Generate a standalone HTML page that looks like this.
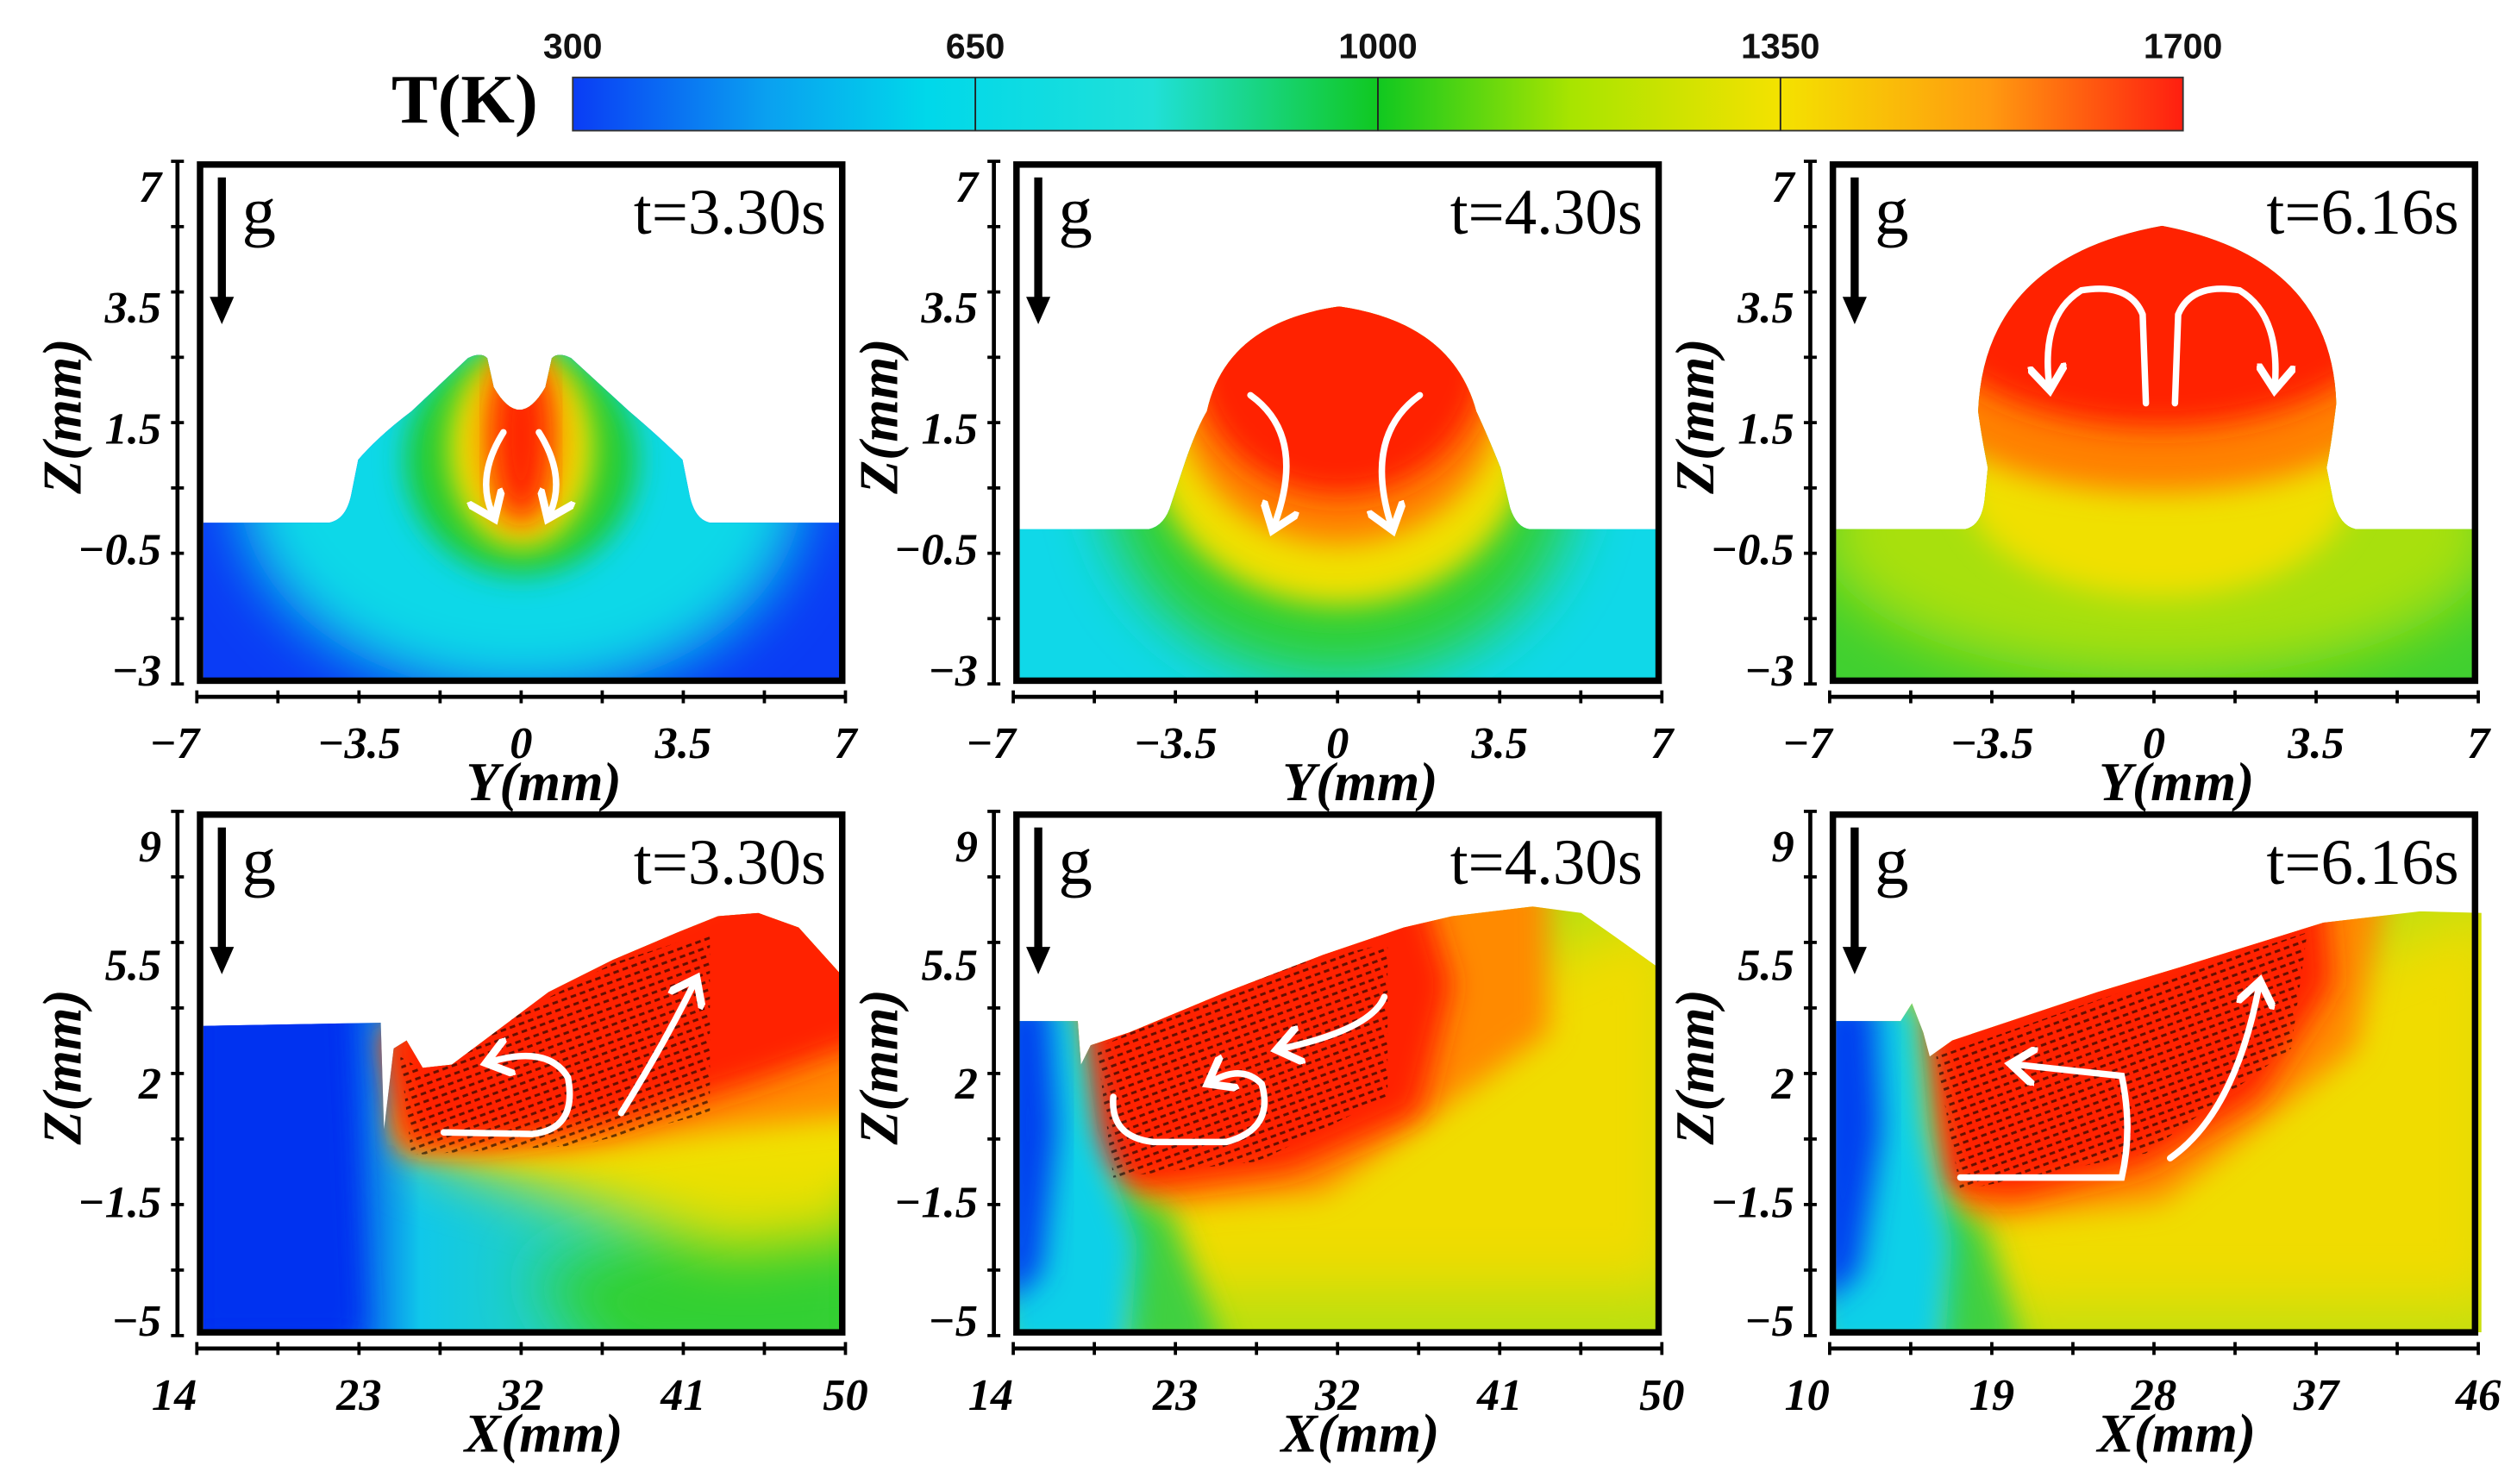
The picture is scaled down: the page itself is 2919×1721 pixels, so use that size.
<!DOCTYPE html>
<html><head><meta charset="utf-8">
<style>
html,body{margin:0;padding:0;background:#fff;}
svg{display:block;}
</style></head>
<body>
<svg id="fig" width="2919" height="1721" viewBox="0 0 1560 920" preserveAspectRatio="none" xmlns="http://www.w3.org/2000/svg">
<defs>
<linearGradient id="cbgrad" x1="0" y1="0" x2="1" y2="0">
<stop offset="0" stop-color="#0a3cf5"/><stop offset="0.12" stop-color="#0aa0f0"/><stop offset="0.22" stop-color="#00d8ea"/>
<stop offset="0.36" stop-color="#20e0d8"/><stop offset="0.5" stop-color="#10c820"/><stop offset="0.62" stop-color="#a8e400"/>
<stop offset="0.75" stop-color="#f4e200"/><stop offset="0.88" stop-color="#ff9a10"/><stop offset="1" stop-color="#ff1e10"/>
</linearGradient>
<linearGradient id="b1base" gradientUnits="userSpaceOnUse" x1="126" y1="0" x2="522" y2="0">
<stop offset="0" stop-color="#0030f0"/><stop offset="0.2" stop-color="#0036f0"/><stop offset="0.34" stop-color="#10c8ea"/><stop offset="0.7" stop-color="#30d8a0"/><stop offset="1" stop-color="#40d030"/>
</linearGradient>
<filter id="bl" x="-30%" y="-30%" width="160%" height="160%"><feGaussianBlur stdDeviation="9"/></filter>
<filter id="bl2" x="-30%" y="-30%" width="160%" height="160%"><feGaussianBlur stdDeviation="18"/></filter>
<pattern id="dots" width="6" height="5" patternUnits="userSpaceOnUse" patternTransform="rotate(-20)">
<rect x="1" y="1" width="3.5" height="1.6" fill="#000" opacity="0.6"/></pattern>
<marker id="wh" markerWidth="6" markerHeight="6" refX="3" refY="3" orient="auto" markerUnits="strokeWidth">
<path d="M0,0 L4,3 L0,6" fill="none" stroke="#fff" stroke-width="1.2"/></marker>
<clipPath id="c1"><path d="M126,324 L204,324 Q215,322 218,305 L222,285 Q235,270 255,255 L290,222 Q298,218 302,222 L306,240 Q322,268 338,240 L342,222 Q346,218 354,222 L390,255 Q410,272 423,285 L427,305 Q430,322 440,324 L522,324 L522,422 L126,422 Z"/></clipPath>
<clipPath id="c2"><path d="M632,328 L712,328 Q722,326 726,312 L735,285 Q742,265 748,255 Q760,200 830,190 Q900,200 915,255 Q922,270 930,290 L936,315 Q940,327 948,328 L1028,328 L1028,422 L632,422 Z"/></clipPath>
<clipPath id="c3"><path d="M1138,328 L1218,328 Q1228,326 1230,310 L1232,290 Q1228,270 1226,255 Q1230,160 1340,140 Q1445,160 1448,250 Q1445,275 1442,290 L1446,310 Q1450,326 1460,328 L1536,328 L1536,422 L1138,422 Z"/></clipPath>
<clipPath id="c4"><path d="M126,636 L236,634 L238,700 L244,650 L252,645 L262,662 L280,660 L300,645 L340,615 L380,595 L420,578 L445,568 L470,566 L495,575 L522,605 L522,826 L126,826 Z"/></clipPath>
<clipPath id="c5"><path d="M632,633 L668,633 L670,660 L676,648 L700,640 L760,615 L820,592 L870,575 L900,568 L950,562 L980,566 L1000,580 L1028,600 L1028,826 L632,826 Z"/></clipPath>
<clipPath id="c6"><path d="M1138,633 L1178,633 L1185,622 L1192,640 L1196,655 L1210,645 L1300,615 L1350,600 L1440,572 L1500,565 L1538,566 L1538,826 L1138,826 Z"/></clipPath>
</defs>

<g>
<text x="288" y="76" text-anchor="middle" font-family="Liberation Serif, serif" font-weight="bold" font-size="43">T(K)</text>
<rect x="355" y="48" width="998" height="33" fill="url(#cbgrad)" stroke="#333" stroke-width="1"/>
<g id="cbticks"></g>
</g>

<g clip-path="url(#c1)">
<rect x="120" y="200" width="410" height="230" fill="#0a3cf5"/>
<ellipse cx="323" cy="300" rx="175" ry="130" fill="#10d8e8" filter="url(#bl2)"/>
<ellipse cx="323" cy="285" rx="72" ry="72" fill="#20cc30" filter="url(#bl)"/>
<ellipse cx="323" cy="278" rx="45" ry="62" fill="#f0e000" filter="url(#bl)"/>
<ellipse cx="323" cy="272" rx="26" ry="55" fill="#ff8000" filter="url(#bl)"/>
<ellipse cx="323" cy="270" rx="16" ry="50" fill="#ff2000" filter="url(#bl)"/>
</g>
<g clip-path="url(#c2)">
<rect x="625" y="180" width="410" height="250" fill="#10d8e8"/>
<ellipse cx="830" cy="295" rx="145" ry="125" fill="#30d030" filter="url(#bl2)"/>
<ellipse cx="830" cy="270" rx="118" ry="105" fill="#f0e000" filter="url(#bl)"/>
<ellipse cx="830" cy="245" rx="100" ry="92" fill="#ff8000" filter="url(#bl)"/>
<ellipse cx="830" cy="222" rx="90" ry="85" fill="#ff2000" filter="url(#bl)"/>
</g>
<g clip-path="url(#c3)">
<rect x="1130" y="130" width="415" height="300" fill="#40d030"/>
<ellipse cx="1338" cy="330" rx="210" ry="90" fill="#a8e010" filter="url(#bl2)"/>
<ellipse cx="1338" cy="300" rx="120" ry="70" fill="#f0e000" filter="url(#bl)"/>
<ellipse cx="1338" cy="250" rx="140" ry="55" fill="#ff8000" filter="url(#bl)"/>
<ellipse cx="1338" cy="185" rx="150" ry="80" fill="#ff2000" filter="url(#bl)"/>
</g>
<g clip-path="url(#c4)">
<rect x="120" y="540" width="410" height="290" fill="url(#b1base)"/>
<polygon points="330,790 540,720 540,850 380,850" fill="#30d030" filter="url(#bl2)"/>
<polygon points="250,712 540,580 540,765 450,775 360,745" fill="#e8e000" filter="url(#bl2)"/>
<polygon points="245,690 540,560 540,730 420,725 330,718 255,712" fill="#f0e000" filter="url(#bl)"/>
<polygon points="240,640 300,615 470,540 540,560 540,690 450,700 350,714 248,714" fill="#ff8a00" filter="url(#bl)"/>
<polygon points="238,640 300,612 470,540 540,560 540,645 470,670 380,698 300,710 250,710" fill="#ff2000" filter="url(#bl)"/>
<polygon points="120,540 212,540 225,830 120,830" fill="#0030f0" filter="url(#bl)"/>
<polygon points="248,655 265,665 300,640 380,597 440,578 440,690 360,710 255,716" fill="url(#dots)"/>
</g>
<g clip-path="url(#c5)">
<rect x="625" y="540" width="410" height="290" fill="#b8e010"/>
<polygon points="690,700 1040,560 1040,800 720,800" fill="#f0dc00" filter="url(#bl2)"/>
<polygon points="672,620 880,540 960,545 960,640 820,740 690,750" fill="#ff8a00" filter="url(#bl)"/>
<polygon points="668,620 760,590 880,545 900,610 880,690 800,725 700,738 672,720" fill="#ff2000" filter="url(#bl)"/>
<polygon points="680,735 725,750 760,840 700,840" fill="#40d040" filter="url(#bl)"/>
<polygon points="620,620 668,620 680,700 705,770 700,840 620,840" fill="#10d0e8" filter="url(#bl)"/>
<polygon points="620,620 650,620 655,700 645,790 620,810" fill="#0040f0" filter="url(#bl)"/>
<polygon points="680,650 770,605 860,585 860,680 780,720 690,730" fill="url(#dots)"/>
</g>
<g clip-path="url(#c6)">
<rect x="1130" y="540" width="415" height="290" fill="#c0e010"/>
<polygon points="1200,700 1550,560 1550,810 1240,810" fill="#f0dc00" filter="url(#bl2)"/>
<polygon points="1195,630 1440,545 1480,550 1460,650 1340,745 1210,758" fill="#ff8a00" filter="url(#bl)"/>
<polygon points="1192,630 1300,600 1440,548 1445,610 1400,680 1330,722 1250,742 1205,738" fill="#ff2000" filter="url(#bl)"/>
<polygon points="1195,740 1230,760 1255,840 1200,840" fill="#40d040" filter="url(#bl)"/>
<polygon points="1125,620 1188,620 1195,700 1210,770 1205,840 1125,840" fill="#10d0e8" filter="url(#bl)"/>
<polygon points="1125,620 1162,620 1166,700 1152,790 1125,810" fill="#0040f0" filter="url(#bl)"/>
<polygon points="1200,655 1300,620 1430,578 1420,650 1330,715 1215,738" fill="url(#dots)"/>
</g>

<g fill="none" stroke="#fff" stroke-width="4" stroke-linecap="round" marker-end="url(#wh)">
<path d="M312,268 Q295,295 305,318"/><path d="M334,268 Q351,295 341,318"/>
<path d="M775,245 Q810,270 790,325"/><path d="M880,245 Q845,270 862,325"/>
<path d="M1330,250 L1328,195 Q1320,175 1290,180 Q1265,195 1270,238"/><path d="M1348,250 L1350,195 Q1358,175 1388,180 Q1413,195 1410,238"/>
<path d="M275,702 L330,703 Q358,700 352,668 Q340,648 305,658"/><path d="M385,690 Q410,650 430,610"/>
<path d="M690,680 Q688,705 715,708 L760,708 Q790,700 782,672 Q770,660 752,670"/><path d="M858,618 Q850,638 795,650"/>
<path d="M1215,730 L1315,730 Q1322,700 1315,667 L1250,660"/><path d="M1345,718 Q1385,690 1400,612"/>
</g>

<g id="panels"></g>
</svg>
<script>
const cbValues = [300, 650, 1000, 1350, 1700];
const yTickLabelsTop = ["7", "3.5", "1.5", "\u22120.5", "\u22123"];
const yTickLabelsBottom = ["9", "5.5", "2", "\u22121.5", "\u22125"];
const xTickLabelsTop = ["\u22127", "\u22123.5", "0", "3.5", "7"];
const xTickLabelsBottom12 = ["14", "23", "32", "41", "50"];
const xTickLabelsBottom3 = ["10", "19", "28", "37", "46"];
const timeLabels = ["t=3.30s", "t=4.30s", "t=6.16s"];

const NS = "http://www.w3.org/2000/svg";
const SERIF = "Liberation Serif, DejaVu Serif, serif";
function mk(tag, attrs, parent) {
  const e = document.createElementNS(NS, tag);
  for (const k in attrs) e.setAttribute(k, attrs[k]);
  parent.appendChild(e);
  return e;
}
function tickText(x, y, anchor, parent) {
  return mk('text', {x: x, y: y, 'text-anchor': anchor, 'font-family': SERIF, 'font-weight': 'bold', 'font-style': 'italic', 'font-size': 28}, parent);
}
const cbg = document.getElementById('cbticks');
const cbX = v => 355 + (v - cbValues[0]) / (cbValues[cbValues.length - 1] - cbValues[0]) * 998;
cbValues.forEach((v, i) => {
  const t = mk('text', {x: cbX(v), y: 36, 'text-anchor': 'middle', 'font-family': 'Liberation Sans, sans-serif', 'font-weight': 'bold', 'font-size': 22, fill: '#111'}, cbg);
  t.textContent = v;
  
  
  if (i > 0 && i < cbValues.length - 1) {
    const l = mk('line', {x1: cbX(v), x2: cbX(v), y1: 48, y2: 81, stroke: '#222', 'stroke-width': 1}, cbg);
    
    
  }
});

const root = document.getElementById('panels');
function panel(ox, top, bot, ylabs, xlabs, tlabel, xtitle, rowLabelY0, rowLabelStep) {
  const g = mk('g', {}, root);
  
  
  const L = 122 + ox, R = 524 + ox;
  const b = mk('rect', {x: L + 2, y: top + 2, width: R - L - 4, height: bot - top - 4, fill: 'none', stroke: '#000', 'stroke-width': 4}, g);
  
  
  const ax = L - 12;
  const ya = mk('line', {x1: ax, x2: ax, y1: top, y2: bot, stroke: '#000', 'stroke-width': 2.5}, g);
  
  
  for (let i = 0; i <= 8; i++) {
    const y = top + (bot - top) * i / 8;
    mk('line', {x1: ax - 4, x2: ax + 4, y1: y, y2: y, stroke: '#000', 'stroke-width': 2}, g);
  }
  ylabs.forEach((s, i) => {
    const t = tickText(L - 22, rowLabelY0 + rowLabelStep * i + 10, 'end', g);
    t.textContent = s;
    
    
  });
  const zt = mk('text', {x: 0, y: 0, 'text-anchor': 'middle', 'font-family': SERIF, 'font-weight': 'bold', 'font-style': 'italic', 'font-size': 34, transform: `translate(${L - 72},${(top + bot) / 2 - 4}) rotate(-90)`}, g);
  zt.textContent = 'Z(mm)';
  
  
  const ay = bot + 8;
  const xa = mk('line', {x1: L, x2: R, y1: ay, y2: ay, stroke: '#000', 'stroke-width': 2.5}, g);
  
  
  for (let i = 0; i <= 8; i++) {
    const x = L + (R - L) * i / 8;
    mk('line', {x1: x, x2: x, y1: ay - 4, y2: ay + 4, stroke: '#000', 'stroke-width': 2}, g);
  }
  xlabs.forEach((s, i) => {
    const x = L + (R - L) * i / 4 + (i === 0 ? -14 : 0);
    const t = tickText(x, ay + 38, 'middle', g);
    t.textContent = s;
    
    
  });
  const xt = mk('text', {x: (L + R) / 2 + 14, y: ay + 64, 'text-anchor': 'middle', 'font-family': SERIF, 'font-weight': 'bold', 'font-style': 'italic', 'font-size': 34}, g);
  xt.textContent = xtitle;
  
  
  const ga = mk('g', {}, g);
  
  
  mk('rect', {x: L + 13, y: top + 10, width: 5, height: 76, fill: '#000'}, ga);
  mk('polygon', {points: `${L + 8},${top + 84} ${L + 23},${top + 84} ${L + 15.5},${top + 101}`, fill: '#000'}, ga);
  const gt = mk('text', {x: L + 28, y: top + 45, 'font-family': SERIF, 'font-size': 42}, g);
  gt.textContent = 'g';
  
  
  const tt = mk('text', {x: R - 12, y: top + 45, 'text-anchor': 'end', 'font-family': SERIF, 'font-size': 40}, g);
  tt.textContent = tlabel;
  
  
}
const offs = [0, 506, 1012];
offs.forEach((o, i) => panel(o, 100, 424, yTickLabelsTop, xTickLabelsTop, timeLabels[i], 'Y(mm)', 115, 75));
offs.forEach((o, i) => panel(o, 503, 828, yTickLabelsBottom, i === 2 ? xTickLabelsBottom3 : xTickLabelsBottom12, timeLabels[i], 'X(mm)', 524, 73.5));
</script>
</body></html>
